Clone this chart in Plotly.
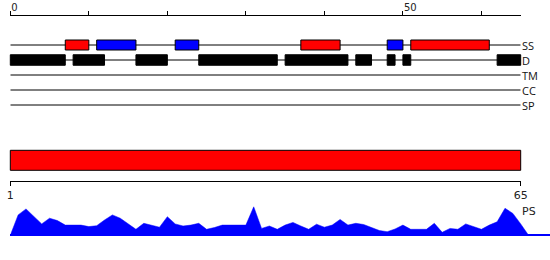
import plotly.graph_objects as go

# ---------------- data ----------------
seq_len = 65
track_names = ["SS", "D", "TM", "CC", "SP"]

# secondary structure elements (start, end, kind: H = helix/red, E = strand/blue)
ss_start = [7, 11, 21, 37, 48, 51]
ss_end = [10, 16, 24, 42, 50, 61]
ss_kind = ["H", "E", "E", "H", "E", "H"]

# disordered regions
dis_start = [0, 8, 16, 24, 35, 44, 48, 50, 62]
dis_end = [7, 12, 20, 34, 43, 46, 49, 51, 65]

# top ruler
top_ticks = [0, 10, 20, 30, 40, 50, 60]
top_labels = ["0", "", "", "", "", "50", ""]

# bottom ruler / domain bar
bar_start = 1
bar_end = 65
bottom_ticks = [1, 65]
bottom_labels = ["1", "65"]

# PS profile
ps_pos = list(range(0, 67))
ps_val = [0.00, 0.68, 0.88, 0.62, 0.38, 0.57, 0.49, 0.34, 0.34, 0.34,
          0.29, 0.32, 0.51, 0.68, 0.57, 0.38, 0.20, 0.40, 0.34, 0.27,
          0.62, 0.38, 0.31, 0.34, 0.40, 0.20, 0.26, 0.34, 0.34, 0.34,
          0.34, 0.95, 0.23, 0.31, 0.20, 0.34, 0.43, 0.31, 0.20, 0.37,
          0.27, 0.34, 0.53, 0.34, 0.40, 0.36, 0.26, 0.16, 0.12, 0.21,
          0.34, 0.20, 0.20, 0.20, 0.40, 0.10, 0.23, 0.20, 0.38, 0.29,
          0.20, 0.34, 0.45, 0.90, 0.73, 0.38, 0.00]

# ---------------- geometry ----------------
W, H = 550, 260
L, R = 10.3, 520.7


def py(px):
    return 1 - px / H


k_top = (R - L) / seq_len
k_bot = (R - L) / (bar_end - bar_start)
top_full_range = [-L / k_top, seq_len + (W - R) / k_top]
bot_full_range = [bar_start - L / k_bot, bar_end + (W - R) / k_bot]


def boxes(starts, ends, row, half):
    xs, ys = [], []
    for s, e in zip(starts, ends):
        xs += [s, e, e, s, s, None]
        ys += [row - half, row - half, row + half, row + half, row - half, None]
    return xs, ys


fig = go.Figure()

# track lines
lx, ly = [], []
for i, _ in enumerate(track_names):
    lx += [0, seq_len, None]
    ly += [i, i, None]
fig.add_trace(go.Scatter(x=lx, y=ly, mode="lines", line=dict(color="black", width=1),
                         xaxis="x", yaxis="y", hoverinfo="skip", showlegend=False))

# disorder boxes
dx, dy = boxes(dis_start, dis_end, track_names.index("D"), 0.35)
fig.add_trace(go.Scatter(x=dx, y=dy, mode="lines", fill="toself", fillcolor="black",
                         line=dict(color="black", width=1), xaxis="x3", yaxis="y",
                         hoverinfo="skip", showlegend=False))

# SS boxes
for kind, col in [("H", "#ff0000"), ("E", "#0000ff")]:
    s = [a for a, t in zip(ss_start, ss_kind) if t == kind]
    e = [b for b, t in zip(ss_end, ss_kind) if t == kind]
    bx, by = boxes(s, e, track_names.index("SS"), 0.333)
    fig.add_trace(go.Scatter(x=bx, y=by, mode="lines", fill="toself", fillcolor=col,
                             line=dict(color="black", width=1), xaxis="x3", yaxis="y",
                             hoverinfo="skip", showlegend=False))

# domain bar
rx, ry = boxes([bar_start], [bar_end], 0, 0.5)
fig.add_trace(go.Scatter(x=rx, y=ry, mode="lines", fill="toself", fillcolor="#ff0000",
                         line=dict(color="black", width=1), xaxis="x4", yaxis="y3",
                         hoverinfo="skip", showlegend=False))
# anchor trace for bottom ruler
fig.add_trace(go.Scatter(x=bottom_ticks, y=[None, None], mode="markers", xaxis="x2", yaxis="y3",
                         hoverinfo="skip", showlegend=False))

# PS profile
fig.add_trace(go.Scatter(x=ps_pos, y=ps_val, mode="lines", fill="tozeroy", fillcolor="#0000ff",
                         line=dict(color="#0000ff", width=0.5), xaxis="x5", yaxis="y4",
                         hoverinfo="skip", showlegend=False))

axis_font = dict(family="DejaVu Sans", size=10, color="#222")

fig.update_layout(
    width=W, height=H, margin=dict(l=0, r=0, t=0, b=0, autoexpand=False),
    paper_bgcolor="white", plot_bgcolor="rgba(0,0,0,0)",
    showlegend=False,
    xaxis=dict(domain=[L / W, R / W], range=[0, seq_len], anchor="free", position=py(15),
               side="top", showline=True, linecolor="black", linewidth=1,
               ticks="outside", ticklen=4, tickcolor="black", tickwidth=1,
               tickvals=top_ticks, ticktext=top_labels, ticklabelposition="outside right",
               tickfont=axis_font, showgrid=False, zeroline=False, automargin=False),
    yaxis=dict(domain=[py(120), py(30)], range=[len(track_names), -1], visible=False,
               anchor="x3"),
    xaxis3=dict(domain=[0, 1], range=top_full_range, visible=False, anchor="y"),
    xaxis2=dict(domain=[L / W, R / W], range=[bar_start, bar_end], anchor="y3", side="bottom",
                showline=True, linecolor="black", linewidth=1,
                ticks="outside", ticklen=4, tickcolor="black", tickwidth=1,
                tickvals=bottom_ticks, ticktext=bottom_labels,
                tickfont=dict(family="DejaVu Sans", size=11, color="#222"),
                showgrid=False, zeroline=False, automargin=False),
    xaxis4=dict(domain=[0, 1], range=bot_full_range, visible=False, anchor="y3"),
    yaxis3=dict(domain=[py(180.7), py(140.7)], range=[-1.02, 0.98], visible=False, anchor="x4"),
    xaxis5=dict(domain=[L / W, 1], range=[0, (W - L) / k_top], visible=False, anchor="y4"),
    yaxis4=dict(domain=[py(238.3), py(205.3)], range=[-0.1, 1.0], anchor="x5",
                showticklabels=False, showgrid=False, showline=False, ticks="",
                zeroline=True, zerolinecolor="#0000ff", zerolinewidth=1.5, automargin=False),
)

for i, name in enumerate(track_names):
    fig.add_annotation(text=name, xref="paper", yref="y", x=R / W, y=i,
                       xanchor="left", yanchor="middle", showarrow=False,
                       font=dict(family="Open Sans", size=11, color="#111"),
                       borderpad=0)

fig.add_annotation(text="PS", xref="paper", yref="paper", x=R / W, y=py(211),
                   xanchor="left", yanchor="middle", showarrow=False,
                   font=dict(family="DejaVu Sans", size=11, color="#222"), borderpad=0)

fig.write_html("out.html", post_script="document.body.style.margin='0';")
